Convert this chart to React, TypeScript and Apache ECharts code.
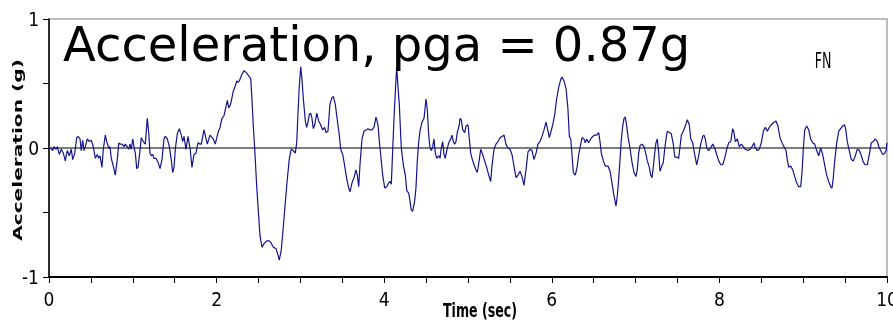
import React, { useEffect, useRef } from "react";
import * as echarts from "echarts";

// Acceleration record (time in s, acceleration in g)
const seg1: number[][] = [
  [0, -0.01], [0.02, 0], [0.044, -0.02], [0.06, 0.01], [0.084, -0.01], [0.099, 0.01], [0.123, -0.05], [0.147, -0.01],
  [0.171, -0.04], [0.195, -0.1], [0.218, -0.02], [0.242, -0.06], [0.266, -0.01], [0.283, -0.09], [0.307, -0.04],
  [0.331, 0.08], [0.346, 0.09], [0.37, 0.07], [0.385, -0.02], [0.402, 0.06], [0.418, -0.02], [0.433, 0.01],
  [0.457, 0.07], [0.481, 0.05], [0.505, 0.06], [0.529, 0.01], [0.553, -0.08], [0.576, -0.05], [0.593, -0.08],
  [0.609, -0.06], [0.632, -0.15], [0.648, -0.01], [0.672, 0.1], [0.689, 0.05], [0.712, 0], [0.728, 0.01],
  [0.743, -0.08], [0.767, -0.14], [0.791, -0.21], [0.815, -0.09], [0.832, 0.04], [0.847, 0.03], [0.871, 0.03],
  [0.895, 0.01], [0.91, 0.03], [0.934, 0.01], [0.951, -0.01], [0.967, 0.03], [0.982, -0.01], [0.999, 0.07],
  [1.014, 0.01], [1.03, -0.04], [1.047, -0.16], [1.062, -0.15], [1.086, -0.02], [1.101, 0.08], [1.125, 0.05],
  [1.149, 0.03], [1.173, 0.23], [1.19, 0.12], [1.205, -0.04], [1.221, -0.06], [1.237, -0.05], [1.253, -0.08],
  [1.277, -0.08], [1.301, -0.11], [1.325, -0.16], [1.348, -0.09], [1.372, 0.07], [1.388, 0.09], [1.412, 0.07],
  [1.436, 0.01], [1.459, -0.09], [1.476, -0.19], [1.492, -0.15], [1.507, -0.01], [1.531, 0.11], [1.555, 0.15],
  [1.579, 0.1], [1.595, 0.05], [1.611, 0.09], [1.635, -0.01],
];
const seg2: number[][] = [
  [1.659, 0.09], [1.683, 0], [1.706, -0.15], [1.73, -0.05], [1.754, -0.04], [1.778, 0.04], [1.802, 0.03],
  [1.817, 0.03], [1.85, 0.14], [1.889, 0.03], [1.921, 0.1], [1.961, 0.07], [1.984, 0.03], [2.017, 0.12],
  [2.041, 0.16], [2.064, 0.23], [2.088, 0.25], [2.112, 0.32], [2.128, 0.37], [2.144, 0.31], [2.168, 0.34],
  [2.199, 0.44], [2.223, 0.48], [2.24, 0.52], [2.255, 0.51], [2.271, 0.52], [2.295, 0.56], [2.327, 0.6],
  [2.359, 0.58], [2.383, 0.56], [2.407, 0.54], [2.422, 0.38], [2.438, 0.17], [2.455, -0.01], [2.479, -0.3],
  [2.502, -0.53], [2.518, -0.68], [2.542, -0.77], [2.566, -0.74], [2.598, -0.72], [2.629, -0.72], [2.653, -0.74],
  [2.677, -0.77], [2.709, -0.78], [2.733, -0.83], [2.748, -0.87], [2.772, -0.79], [2.796, -0.61], [2.82, -0.42],
  [2.844, -0.24], [2.868, -0.08], [2.891, -0.01], [2.915, -0.02], [2.939, -0.04], [2.956, 0.04], [2.971, 0.27],
  [2.987, 0.48], [3.004, 0.63], [3.019, 0.53], [3.035, 0.38], [3.059, 0.21], [3.075, 0.16], [3.091, 0.2],
  [3.106, 0.26], [3.123, 0.27], [3.138, 0.23], [3.154, 0.15], [3.171, 0.18], [3.195, 0.27], [3.218, 0.21],
  [3.242, 0.18], [3.266, 0.14], [3.29, 0.16], [3.305, 0.12], [3.329, 0.13],
];
const seg3: number[][] = [
  [3.353, 0.34], [3.377, 0.39], [3.393, 0.4], [3.416, 0.34], [3.44, 0.22], [3.464, 0.1], [3.481, -0.01],
  [3.505, -0.05], [3.529, -0.14], [3.553, -0.24], [3.576, -0.31], [3.592, -0.34], [3.616, -0.27], [3.64, -0.23],
  [3.663, -0.17], [3.679, -0.21], [3.696, -0.3], [3.711, -0.13], [3.735, 0.07], [3.759, 0.13], [3.783, 0.14],
  [3.807, 0.15], [3.831, 0.14], [3.854, 0.14], [3.878, 0.16], [3.902, 0.24], [3.926, 0.18], [3.942, 0.05],
  [3.958, -0.05], [3.982, -0.21], [4.006, -0.31], [4.03, -0.3], [4.054, -0.27], [4.069, -0.26], [4.085, -0.28],
  [4.101, -0.02], [4.117, 0.23], [4.133, 0.44], [4.149, 0.63], [4.165, 0.47], [4.18, 0.34], [4.204, 0],
  [4.228, -0.13], [4.252, -0.21], [4.269, -0.33], [4.292, -0.35], [4.308, -0.41], [4.323, -0.48], [4.34, -0.49],
  [4.364, -0.41], [4.379, -0.31], [4.395, -0.1], [4.412, 0.05], [4.427, 0.13], [4.451, 0.2], [4.475, 0.23],
  [4.499, 0.38], [4.514, 0.3], [4.531, 0.1], [4.547, 0], [4.562, -0.02], [4.579, 0.01], [4.594, 0.07],
  [4.61, -0.04], [4.627, -0.08], [4.65, -0.06], [4.666, -0.08], [4.681, 0], [4.698, 0.05], [4.714, -0.05],
  [4.729, -0.08], [4.746, -0.02], [4.77, 0.04], [4.794, 0.07], [4.809, 0.1], [4.825, 0.05], [4.841, 0.03],
  [4.857, 0.05], [4.872, 0.12], [4.896, 0.18], [4.905, 0.23], [4.92, 0.22], [4.937, 0.14], [4.961, 0.12],
  [4.976, 0.17],
];
const seg4: number[][] = [
  [5.0, 0.18], [5.016, 0.07], [5.032, -0.04], [5.048, -0.08], [5.072, -0.13], [5.095, -0.17], [5.111, -0.19],
  [5.135, -0.09], [5.152, -0.01], [5.175, -0.05], [5.199, -0.1], [5.223, -0.15], [5.247, -0.21], [5.271, -0.26],
  [5.286, -0.14], [5.31, -0.01], [5.334, 0.03], [5.358, 0.05], [5.382, 0.08], [5.406, 0.09], [5.43, 0.1],
  [5.453, 0.03], [5.477, 0], [5.501, -0.01], [5.525, -0.05], [5.549, -0.14], [5.573, -0.23], [5.597, -0.21],
  [5.621, -0.18], [5.644, -0.22], [5.668, -0.29], [5.692, -0.17], [5.716, -0.03], [5.74, -0.01], [5.764, -0.02],
  [5.788, -0.09], [5.812, -0.04], [5.835, 0.03], [5.859, 0.05], [5.883, 0.09], [5.907, 0.14], [5.931, 0.2],
  [5.955, 0.13], [5.97, 0.08], [5.987, 0.12], [6.011, 0.18], [6.035, 0.26], [6.058, 0.38], [6.082, 0.47],
  [6.106, 0.53], [6.122, 0.55], [6.146, 0.52], [6.17, 0.46], [6.193, 0.3], [6.209, 0.09], [6.226, 0.07],
  [6.241, -0.05], [6.257, -0.19], [6.281, -0.21], [6.304, -0.14], [6.321, -0.05], [6.337, 0], [6.36, 0.08],
  [6.384, 0.07], [6.4, 0.04], [6.417, 0.07], [6.44, 0.04], [6.464, 0.07], [6.488, 0.09], [6.512, 0.1],
  [6.536, 0.1], [6.56, 0.12], [6.575, 0.05], [6.591, -0.04], [6.615, -0.1], [6.638, -0.14], [6.671, -0.14],
];
const seg5: number[][] = [
  [6.695, -0.18], [6.718, -0.27], [6.742, -0.37], [6.766, -0.45], [6.782, -0.37], [6.798, -0.24], [6.814, -0.09],
  [6.83, 0.07], [6.846, 0.17], [6.862, 0.23], [6.877, 0.24], [6.894, 0.17], [6.909, 0.09], [6.933, 0],
  [6.957, -0.11], [6.981, -0.19], [7.005, -0.22], [7.02, -0.17], [7.037, -0.04], [7.053, 0.02], [7.076, 0.03],
  [7.1, 0.01], [7.124, -0.05], [7.14, -0.1], [7.164, -0.15], [7.18, -0.21], [7.196, -0.23], [7.211, -0.15],
  [7.228, -0.04], [7.243, 0.04], [7.259, 0.07], [7.276, -0.04], [7.291, -0.18], [7.307, -0.15], [7.331, -0.11],
  [7.347, -0.01], [7.363, 0.07], [7.378, 0.13], [7.402, 0.12], [7.426, 0.11], [7.45, 0.03], [7.467, -0.07],
  [7.49, -0.07], [7.514, -0.08], [7.53, 0.01], [7.546, 0.1], [7.569, 0.13], [7.593, 0.17], [7.617, 0.22],
  [7.641, 0.18], [7.658, 0.07], [7.681, 0.04], [7.705, -0.05], [7.729, -0.13], [7.753, -0.06], [7.777, 0.03],
  [7.801, 0.09], [7.816, 0.1], [7.832, 0.07], [7.849, 0], [7.872, -0.02], [7.896, 0], [7.92, 0.03], [7.944, 0],
  [7.968, -0.05], [7.992, -0.1], [8.016, -0.13], [8.039, -0.13], [8.063, -0.08], [8.087, -0.01], [8.111, 0.04],
  [8.135, 0.05], [8.159, 0.15], [8.174, 0.12], [8.19, 0.05], [8.214, 0.07], [8.237, 0.01], [8.261, 0.03],
  [8.285, 0.01], [8.309, -0.01], [8.341, -0.02],
];
const seg6: number[][] = [
  [8.365, -0.01], [8.389, 0.01], [8.413, 0.04], [8.428, 0], [8.452, -0.02], [8.476, -0.01], [8.5, 0.04],
  [8.524, 0.13], [8.548, 0.16], [8.572, 0.13], [8.595, 0.16], [8.619, 0.18], [8.652, 0.2], [8.675, 0.21],
  [8.699, 0.17], [8.723, 0.08], [8.747, 0.04], [8.771, 0.01], [8.795, -0.02], [8.81, -0.09], [8.827, -0.15],
  [8.851, -0.14], [8.875, -0.17], [8.898, -0.22], [8.922, -0.27], [8.946, -0.3], [8.97, -0.3], [8.986, -0.19],
  [9.001, -0.01], [9.018, 0.14], [9.042, 0.17], [9.066, 0.14], [9.089, 0.07], [9.113, 0.04], [9.137, 0.03],
  [9.161, -0.02], [9.185, -0.06], [9.209, 0], [9.232, -0.05], [9.256, -0.13], [9.28, -0.21], [9.304, -0.26],
  [9.328, -0.3], [9.344, -0.31], [9.359, -0.23], [9.376, -0.1], [9.4, 0.04], [9.424, 0.13], [9.447, 0.15],
  [9.471, 0.17], [9.495, 0.18], [9.511, 0.13], [9.526, 0.05], [9.55, -0.02], [9.574, -0.09], [9.598, -0.1],
  [9.622, -0.06], [9.646, -0.01], [9.67, -0.02], [9.694, -0.06], [9.717, -0.11], [9.741, -0.13], [9.765, -0.13],
  [9.789, -0.05], [9.813, 0.04], [9.837, 0.05], [9.861, 0.07], [9.884, 0.05], [9.908, 0], [9.925, -0.02],
  [9.949, -0.05], [9.973, -0.04], [9.99, -0.02], [10, 0.04],
];

const timeTicks = [0, 2, 4, 6, 8, 10];
const accelTicks = [-1, 0, 1];
const titleText = "Acceleration, pga = 0.87g";
const componentText = "FN";
const xName = "Time (sec)";
const yName = "Acceleration (g)";

const narrow = '"Liberation Sans Narrow", "DejaVu Sans Condensed", "Arial Narrow", sans-serif';

export default function App() {
  const ref = useRef<HTMLDivElement>(null);
  useEffect(() => {
    if (!ref.current) return;
    const chart = echarts.init(ref.current, null, { renderer: "svg", width: 893, height: 322 });
    const data = [...seg1, ...seg2, ...seg3, ...seg4, ...seg5, ...seg6];
    chart.setOption({
      animation: false,
      grid: {
        left: 49, right: 6, top: 19, bottom: 45,
        outerBoundsMode: "none", containLabel: false,
        show: true, borderColor: "#a8a8a8", borderWidth: 1.5, backgroundColor: "transparent",
      },
      xAxis: {
        type: "value", min: 0, max: 10, interval: 0.5,
        axisLine: { show: true, onZero: false, lineStyle: { color: "#000", width: 2 } },
        axisTick: { show: true, length: 6, lineStyle: { color: "#000", width: 1 } },
        splitLine: { show: false },
        axisLabel: {
          show: true, showMaxLabel: true, showMinLabel: true, margin: 12,
          fontFamily: narrow, fontSize: 19, color: "#000",
          formatter: (v: number) => (timeTicks.includes(v) ? String(v) : ""),
        },
      },
      yAxis: {
        type: "value", min: -1, max: 1, interval: 0.5,
        axisLine: { show: true, onZero: false, lineStyle: { color: "#000", width: 1.5 } },
        axisTick: { show: true, length: 6, lineStyle: { color: "#000", width: 1 } },
        splitLine: { show: false },
        axisLabel: {
          show: true, margin: 10, fontFamily: narrow, fontSize: 19, color: "#000",
          formatter: (v: number) => (accelTicks.includes(v) ? String(v) : ""),
        },
      },
      series: [
        {
          type: "line",
          data,
          symbol: "none",
          showSymbol: false,
          lineStyle: { color: "#14148c", width: 1.2 },
          z: 3,
          markLine: {
            silent: true, symbol: "none", label: { show: false }, z: 2,
            lineStyle: { color: "#505050", width: 1.5, type: "solid" },
            data: [{ yAxis: 0 }],
          },
        },
      ],
      graphic: [
        {
          type: "text", x: 63, y: 44, z: 10,
          style: { text: titleText, font: '48px "DejaVu Sans", sans-serif', fill: "#000", textAlign: "left", textVerticalAlign: "middle" },
        },
        {
          type: "text", x: 823, y: 60.5, scaleY: 1.5, z: 10,
          style: { text: componentText, font: "14px " + narrow, fill: "#000", textAlign: "center", textVerticalAlign: "middle" },
        },
        {
          type: "text", x: 480, y: 311, scaleY: 1.35, z: 10,
          style: { text: xName, font: "bold 14px " + narrow, fill: "#000", textAlign: "center", textVerticalAlign: "middle" },
        },
        {
          type: "text", x: 17, y: 150, rotation: Math.PI / 2, scaleX: 1.55, z: 10,
          style: { text: yName, font: 'bold 13px "DejaVu Sans", sans-serif', fill: "#000", textAlign: "center", textVerticalAlign: "middle" },
        },
      ],
    });
    return () => chart.dispose();
  }, []);
  return <div ref={ref} style={{ position: "fixed", left: 0, top: 0, width: 893, height: 322 }} />;
}
